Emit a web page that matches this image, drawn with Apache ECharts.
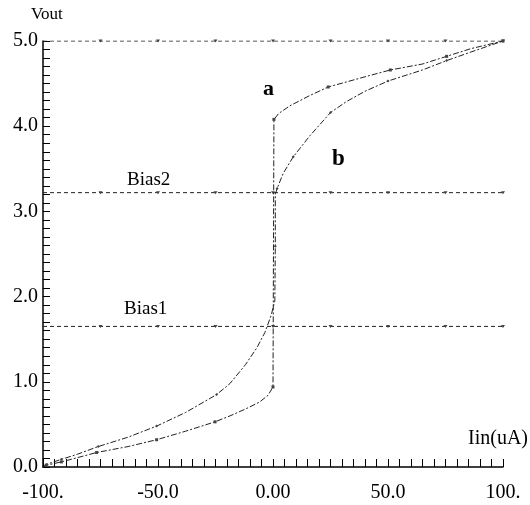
<!DOCTYPE html>
<html lang="en">
<head>
    <meta charset="UTF-8">
    <title>Vout vs Iin</title>
    <style>
        html, body { margin: 0; padding: 0; background: #fff; }
        #main { width: 530px; height: 505px; }
    </style>
</head>
<body>
    <div id="main"></div>
    <script src="https://cdn.jsdelivr.net/npm/echarts@6/dist/echarts.min.js"></script>
    <script type="text/javascript">
        // axis texts
        var xTickValues = [-100, -50, 0, 50, 100];
        var xTickText = ['-100.', '-50.0', '0.00', '50.0', '100.'];
        var yTickText = ['0.0', '1.0', '2.0', '3.0', '4.0', '5.0'];

        // flat reference lines (Vout level) and the x where their markers sit
        var topLevel = 5.0;
        var bias2Level = 3.22;
        var bias1Level = 1.65;
        var levelMarkX = [-100, -75, -50, -25, 0, 25, 50, 75, 100];

        // curves: [Iin, Vout, marker?]
        var curveA = [
            [-100, 0.0, 0], [-98.6, 0.02, 1], [-92, 0.06, 1], [-85, 0.11, 0],
            [-76.7, 0.17, 1], [-63, 0.24, 0], [-50.6, 0.32, 1], [-38, 0.42, 0],
            [-25.2, 0.53, 1], [-18.7, 0.6, 0], [-12, 0.68, 0], [-6, 0.76, 0],
            [-2.2, 0.84, 0], [0, 0.94, 1], [0.4, 4.08, 1], [2.5, 4.15, 0],
            [7.4, 4.24, 0], [16, 4.36, 0], [24, 4.46, 1], [40, 4.58, 0],
            [51, 4.66, 1], [65, 4.73, 0], [75.5, 4.82, 1], [86, 4.91, 0],
            [100, 5.0, 1]
        ];
        var curveB = [
            [-100, 0.0, 0], [-98.6, 0.03, 1], [-92, 0.09, 1], [-85, 0.15, 0],
            [-76, 0.24, 1], [-63, 0.35, 0], [-50.6, 0.48, 1], [-38, 0.64, 0],
            [-24.5, 0.85, 1], [-18.7, 0.98, 0], [-12, 1.2, 0], [-7, 1.4, 0],
            [-3.5, 1.58, 0], [-0.8, 1.78, 0], [0.8, 1.95, 0], [1, 2.59, 1],
            [1, 3.2, 0], [1.8, 3.27, 1], [4.5, 3.45, 0], [8.8, 3.64, 1],
            [16.1, 3.89, 0], [25, 4.16, 1], [32, 4.29, 0], [40, 4.41, 0],
            [50, 4.53, 1], [65, 4.66, 0], [75.5, 4.77, 1], [86, 4.87, 0],
            [100, 5.0, 1]
        ];

        var serif = 'Liberation Serif';
        var ink = '#222';

        function levelData(v) {
            return levelMarkX.map(function (x, i) {
                var item = { value: [x, v] };
                if (i === 0) item.symbol = 'none';
                return item;
            });
        }
        function curveData(arr) {
            return arr.map(function (p) {
                var item = { value: [p[0], p[1]] };
                if (!p[2]) item.symbol = 'none';
                return item;
            });
        }

        function levelSeries(v) {
            return {
                type: 'line',
                data: levelData(v),
                symbol: 'triangle',
                symbolRotate: 180,
                symbolSize: [4, 3],
                lineStyle: { color: ink, width: 1, type: [4, 3] },
                itemStyle: { color: '#444' },
                silent: true,
                z: 2
            };
        }
        function curveSeries(arr, sym) {
            return {
                type: 'line',
                data: curveData(arr),
                symbol: sym,
                symbolSize: 3,
                lineStyle: { color: ink, width: 1, type: [6, 2, 2, 2] },
                itemStyle: { color: '#444' },
                silent: true,
                z: 3
            };
        }

        var myChart = echarts.init(document.getElementById('main'));

        var option = {
            backgroundColor: '#fff',
            animation: false,
            grid: { left: 43, right: 27, top: 41, bottom: 38 },
            xAxis: {
                type: 'value',
                min: -100,
                max: 100,
                interval: 50,
                axisLine: { onZero: false, lineStyle: { color: '#000', width: 1.5 } },
                axisTick: { inside: true, length: 8, lineStyle: { color: '#000' } },
                minorTick: { show: true, splitNumber: 10, length: 8, lineStyle: { color: '#000' } },
                splitLine: { show: false },
                axisLabel: {
                    margin: 16,
                    color: '#000',
                    fontFamily: serif,
                    fontSize: 20,
                    formatter: function (v) {
                        var i = xTickValues.indexOf(v);
                        return i >= 0 ? xTickText[i] : '';
                    }
                }
            },
            yAxis: {
                type: 'value',
                min: 0,
                max: 5,
                interval: 1,
                axisLine: { show: true, onZero: false, lineStyle: { color: '#000', width: 1.5 } },
                axisTick: { inside: true, length: 7, lineStyle: { color: '#000' } },
                minorTick: { show: true, splitNumber: 10, length: 7, lineStyle: { color: '#000' } },
                splitLine: { show: false },
                axisLabel: {
                    margin: 5,
                    color: '#000',
                    fontFamily: serif,
                    fontSize: 20,
                    formatter: function (v) {
                        return yTickText[Math.round(v)];
                    }
                }
            },
            graphic: [
                { type: 'text', left: 31, top: 6, style: { text: 'Vout', font: '17px "Liberation Serif"', fill: '#000' } },
                { type: 'text', left: 468, top: 429, style: { text: 'Iin(uA)', font: '20px "Liberation Serif"', fill: '#000' } },
                { type: 'text', left: 127, top: 171, style: { text: 'Bias2', font: '19px "Liberation Serif"', fill: '#000' } },
                { type: 'text', left: 124, top: 300, style: { text: 'Bias1', font: '19px "Liberation Serif"', fill: '#000' } },
                { type: 'text', left: 263, top: 78, style: { text: 'a', font: 'bold 22px "Liberation Serif"', fill: '#000' } },
                { type: 'text', left: 332, top: 148, style: { text: 'b', font: 'bold 23px "Liberation Serif"', fill: '#000' } }
            ],
            series: [
                levelSeries(topLevel),
                levelSeries(bias2Level),
                levelSeries(bias1Level),
                curveSeries(curveA, 'rect'),
                curveSeries(curveB, 'diamond')
            ]
        };

        myChart.setOption(option);
    </script>
</body>
</html>
